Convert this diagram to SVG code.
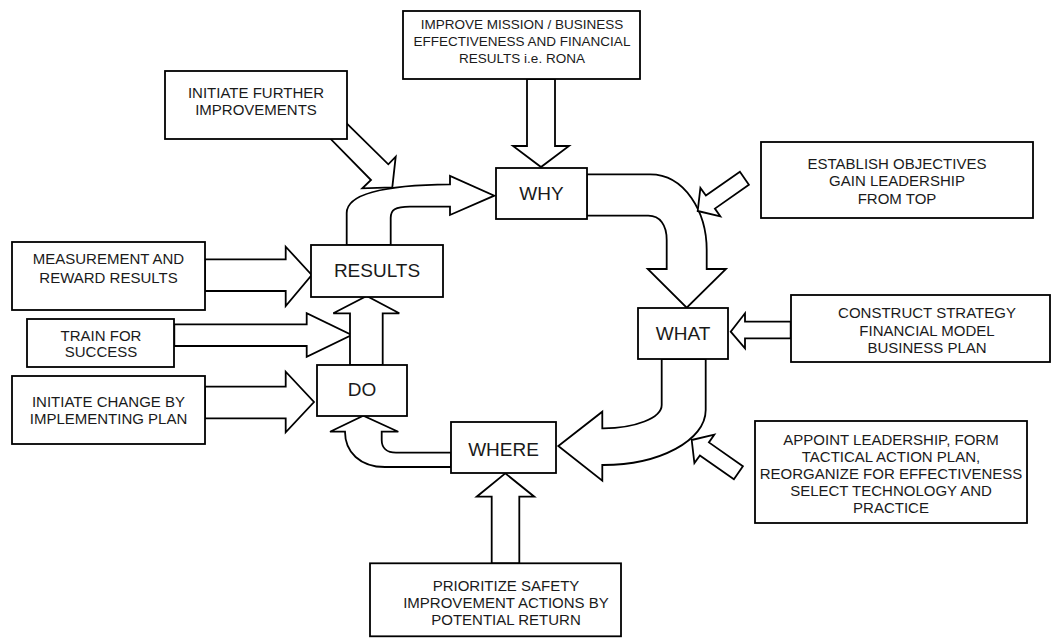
<svg xmlns="http://www.w3.org/2000/svg" width="1052" height="638" viewBox="0 0 1052 638">
<style>
.box{fill:#fff;stroke:#000;stroke-width:1.8}
.arr{fill:#fff;stroke:#000;stroke-width:1.8;stroke-linejoin:miter}
.t{font-family:"Liberation Sans",Arial,sans-serif;font-size:15px;fill:#1a1a1a;text-anchor:middle}
.tt{font-family:"Liberation Sans",Arial,sans-serif;font-size:13.5px;fill:#1a1a1a;text-anchor:middle}
.big{font-family:"Liberation Sans",Arial,sans-serif;font-size:19px;fill:#1a1a1a;text-anchor:middle}
</style>
<rect width="1052" height="638" fill="#fff"/>
<g id="connectors">
<polygon class="arr" points="527,79 527,146 513,146 541,167 569,146 555,146 555,79"/>
<polygon class="arr" points="346.7,123.3 388.3,164.3 395.7,156.7 392.3,187.3 362.3,188.3 371,180 331,139.3"/>
<path class="arr" d="M346.7,245 V213 C346.7,195 380,185 450,184.3 V176 L494.3,195.7 L450,215 V206.7 H410 C395,206.7 390.7,210 390.7,218 V245 Z"/>
<path class="arr" d="M586.7,174.3 H650 C685,174.3 706.7,212 706.7,250 V269 H726 L686.7,307.7 L647.7,269 H666.7 V240 C666.7,225 660,215.7 648.3,215.7 H586.7 Z"/>
<polygon class="arr" points="697.7,211 720.3,216.3 714.9,208.6 748.9,184.7 739.9,171.7 705.9,195.6 700.4,187.9"/>
<polygon class="arr" points="790.7,321.7 745,321.7 745,313.3 730.7,331.7 745,348.3 745,338.3 790.7,338.3"/>
<path class="arr" d="M705.7,359 V410 C705.7,440.4 659.6,465 603.3,465 H602.3 V480.7 L558.3,446 L602.3,411.7 V428.3 H603.3 C635,428.3 661.7,418 661.7,405 V359 Z"/>
<polygon class="arr" points="691.7,440 714.3,434.7 708.9,442.4 742.9,466.3 733.9,479.3 699.9,455.4 694.4,463.1"/>
<polygon class="arr" points="205,259.3 285.7,259.3 285.7,246.7 311.7,275 285.7,306 285.7,291 205,291"/>
<polygon class="arr" points="174.3,324.3 306.7,324.3 306.7,313.3 351.7,335 306.7,356.7 306.7,346 174.3,346"/>
<polygon class="arr" points="205,386.7 285.7,386.7 285.7,371.7 314,402 285.7,432.3 285.7,418.3 205,418.3"/>
<polygon class="arr" points="350,365 350,313.3 333.3,313.3 366.7,296 399.3,313.3 382.7,313.3 382.7,365"/>
<path class="arr" d="M451,467 H385 C360,467 345,452 345,431.7 H330 L363.3,415.7 L398.3,431.7 H381.7 V440 C381.7,448 387,452.7 396,452.7 H451 Z"/>
<polygon class="arr" points="491.7,563.3 491.7,496.7 476.7,496.7 505.3,473.3 534.3,496.7 519.3,496.7 519.3,563.3"/>
</g>
<g id="n-further">
<rect class="box" x="165" y="71" width="182" height="68"/>
<text class="t" x="256" y="98">INITIATE FURTHER</text>
<text class="t" x="256" y="115">IMPROVEMENTS</text>
</g>
<g id="n-mission">
<rect class="box" x="403" y="11" width="237" height="68"/>
<text class="tt" x="522" y="29">IMPROVE MISSION / BUSINESS</text>
<text class="tt" x="522" y="46">EFFECTIVENESS AND FINANCIAL</text>
<text class="tt" x="522" y="63">RESULTS i.e. RONA</text>
</g>
<g id="n-why">
<rect class="box" x="496" y="168" width="91" height="51"/>
<text class="big" x="541.5" y="200">WHY</text>
</g>
<g id="n-establish">
<rect class="box" x="761" y="142" width="272" height="76"/>
<text class="t" x="897" y="169">ESTABLISH OBJECTIVES</text>
<text class="t" x="897" y="186">GAIN LEADERSHIP</text>
<text class="t" x="897" y="204">FROM TOP</text>
</g>
<g id="n-what">
<rect class="box" x="638" y="308" width="90" height="51"/>
<text class="big" x="683" y="340">WHAT</text>
</g>
<g id="n-construct">
<rect class="box" x="791" y="295" width="259" height="67"/>
<text class="t" x="927" y="318">CONSTRUCT STRATEGY</text>
<text class="t" x="927" y="336">FINANCIAL MODEL</text>
<text class="t" x="927" y="353">BUSINESS PLAN</text>
</g>
<g id="n-appoint">
<rect class="box" x="755" y="421" width="272" height="102"/>
<text class="t" x="891" y="445">APPOINT LEADERSHIP, FORM</text>
<text class="t" x="891" y="462">TACTICAL ACTION PLAN,</text>
<text class="t" x="891" y="479">REORGANIZE FOR EFFECTIVENESS</text>
<text class="t" x="891" y="496">SELECT TECHNOLOGY AND</text>
<text class="t" x="891" y="513">PRACTICE</text>
</g>
<g id="n-where">
<rect class="box" x="451" y="422" width="105" height="51"/>
<text class="big" x="503.5" y="456">WHERE</text>
</g>
<g id="n-prioritize">
<rect class="box" x="370" y="563.3" width="251" height="73"/>
<text class="t" x="506" y="591">PRIORITIZE SAFETY</text>
<text class="t" x="506" y="608">IMPROVEMENT ACTIONS BY</text>
<text class="t" x="506" y="625">POTENTIAL RETURN</text>
</g>
<g id="n-do">
<rect class="box" x="317" y="365" width="90" height="51"/>
<text class="big" x="362" y="396">DO</text>
</g>
<g id="n-results">
<rect class="box" x="311" y="245" width="132" height="52"/>
<text class="big" x="377" y="277">RESULTS</text>
</g>
<g id="n-measure">
<rect class="box" x="12" y="242" width="193" height="68"/>
<text class="t" x="108.5" y="264">MEASUREMENT AND</text>
<text class="t" x="108.5" y="283">REWARD RESULTS</text>
</g>
<g id="n-train">
<rect class="box" x="27" y="319" width="147" height="48"/>
<text class="t" x="101" y="341">TRAIN FOR</text>
<text class="t" x="101" y="357">SUCCESS</text>
</g>
<g id="n-change">
<rect class="box" x="12" y="376" width="193" height="68"/>
<text class="t" x="108.5" y="407">INITIATE CHANGE BY</text>
<text class="t" x="108.5" y="424">IMPLEMENTING PLAN</text>
</g>
</svg>
